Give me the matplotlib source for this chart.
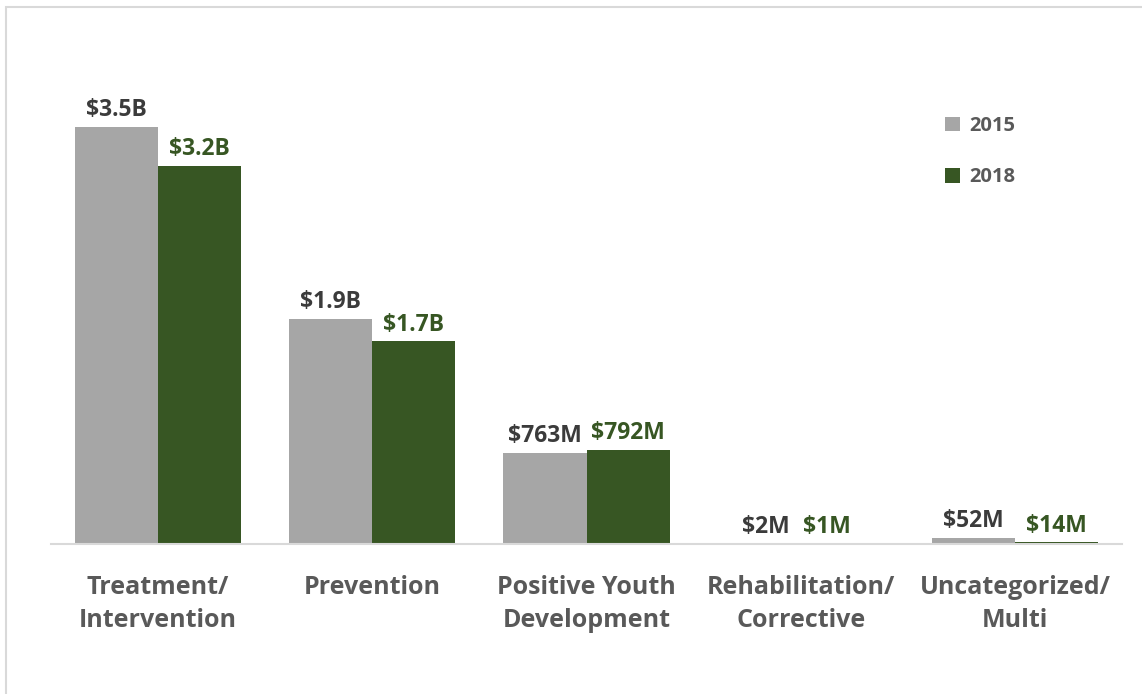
import numpy as np
import matplotlib.pyplot as plt
from matplotlib.patches import Rectangle

categories = ['Treatment/\nIntervention', 'Prevention', 'Positive Youth\nDevelopment',
              'Rehabilitation/\nCorrective', 'Uncategorized/\nMulti']
values_2015 = [3.50, 1.89, 0.763, 0.002, 0.052]   # billions
values_2018 = [3.17, 1.70, 0.792, 0.001, 0.014]
labels_2015 = ['$3.5B', '$1.9B', '$763M', '$2M', '$52M']
labels_2018 = ['$3.2B', '$1.7B', '$792M', '$1M', '$14M']

gray = '#a6a6a6'
green = '#375623'
text_gray = '#595959'
dark = '#3b3b3b'

plt.rcParams['font.family'] = ['Open Sans', 'DejaVu Sans']

fig = plt.figure(figsize=(11.42, 6.94), dpi=100)
ax = fig.add_axes([51 / 1142, 150 / 694, 1071 / 1142, 477 / 694])

# light frame (left and top visible in the reference)
fig.patches.append(Rectangle((6 / 1142, -0.1), 1.2, (694 - 7) / 694 + 0.1,
                             transform=fig.transFigure, fill=False,
                             edgecolor='#d9d9d9', linewidth=1.5))

x = np.arange(len(categories))
w = 0.388
b1 = ax.bar(x - w / 2, values_2015, w, color=gray, label='2015')
b2 = ax.bar(x + w / 2, values_2018, w, color=green, label='2018')

# the two tiny Rehabilitation labels sit a little closer together
nudge_2015 = {3: 0.03}
nudge_2018 = {3: -0.07}

for i, (rect, lab) in enumerate(zip(b1, labels_2015)):
    ax.text(rect.get_x() + rect.get_width() / 2 + nudge_2015.get(i, 0),
            rect.get_height() + 0.04, lab,
            ha='center', va='bottom', fontsize=16.5, fontweight='bold', color=dark)
for i, (rect, lab) in enumerate(zip(b2, labels_2018)):
    ax.text(rect.get_x() + rect.get_width() / 2 + nudge_2018.get(i, 0),
            rect.get_height() + 0.04, lab,
            ha='center', va='bottom', fontsize=16.5, fontweight='bold', color=green)

ax.set_xlim(-0.5, len(categories) - 0.5)
ax.set_ylim(0, 4.0)
ax.set_yticks([])
ax.set_xticks(x)
ax.set_xticklabels(categories, fontsize=18, fontweight='bold', color=text_gray,
                   linespacing=1.45)
ax.tick_params(axis='x', length=0, pad=22)
for s in ['top', 'right', 'left']:
    ax.spines[s].set_visible(False)
ax.spines['bottom'].set_color('#d9d9d9')
ax.spines['bottom'].set_linewidth(1.5)

leg = ax.legend(loc='upper left', bbox_to_anchor=(0.818, 0.935), frameon=False,
                handlelength=0.75, handleheight=0.75,
                handletextpad=0.45, labelspacing=1.55, prop={'weight': 'bold', 'size': 14.5})
for t in leg.get_texts():
    t.set_color(text_gray)

fig.savefig('out.png', dpi=100)
